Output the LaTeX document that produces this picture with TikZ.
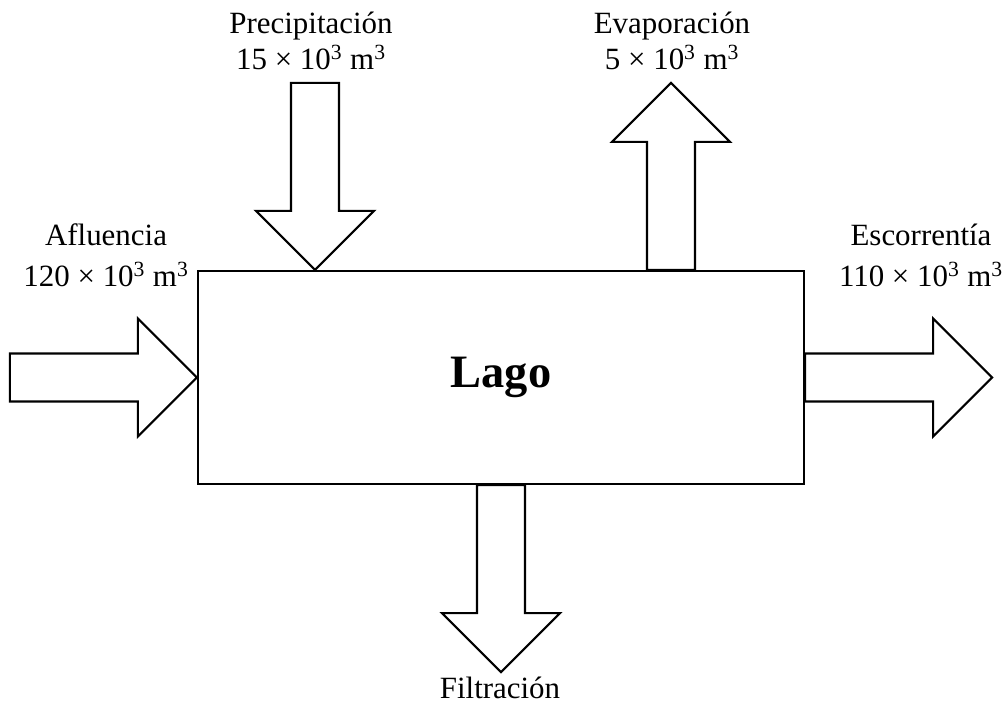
\documentclass[tikz,border=0pt]{standalone}
\usepackage{fontspec}
\setmainfont{Liberation Serif}
\usetikzlibrary{calc}

\begin{document}
\begin{tikzpicture}[x=0.025cm,y=0.025cm,line width=1.5pt]
    \tikzstyle{caja}=[rectangle,draw=black,minimum width=15.15cm,minimum height=5.325cm,inner sep=0pt,font=\fontsize{33}{40}\selectfont\bfseries]
    \tikzstyle{etiqueta}=[align=center,inner sep=0pt,anchor=south,font=\fontsize{22}{29}\selectfont]
    \useasboundingbox (0,0) rectangle (1008,706);

    \node[caja] (lago) at (501,328.5) {Lago};

    % inicio de cada flecha
    \coordinate (afl) at ($(lago.west)+(-187,0)$);
    \coordinate (esc) at (lago.east);
    \coordinate (pre) at ($(lago.north)+(-186,187)$);
    \coordinate (eva) at ($(lago.north)+(170,0)$);
    \coordinate (fil) at (lago.south);

    \foreach \name/\ang in {afl/0, esc/0, pre/-90, eva/90, fil/-90}
        \draw[shift={(\name)},rotate=\ang] (0,-24) -- (128,-24) -- (128,-59) -- (187,0) -- (128,59) -- (128,24) -- (0,24) -- cycle;

    \node[etiqueta] (afl-txt) at (106,418) {Afluencia\\120 × 10\textsuperscript{3} m\textsuperscript{3}};
    \node[etiqueta] (esc-txt) at (921,418) {Escorrentía\\110 × 10\textsuperscript{3} m\textsuperscript{3}};
    \node[etiqueta,font=\fontsize{22}{25.6}\selectfont] (pre-txt) at (311,635) {Precipitación\\15 × 10\textsuperscript{3} m\textsuperscript{3}};
    \node[etiqueta,font=\fontsize{22}{25.6}\selectfont] (eva-txt) at (672,635) {Evaporación\\5 × 10\textsuperscript{3} m\textsuperscript{3}};
    \node[etiqueta,anchor=base] (fil-txt) at (500,8) {Filtración};
\end{tikzpicture}
\end{document}
